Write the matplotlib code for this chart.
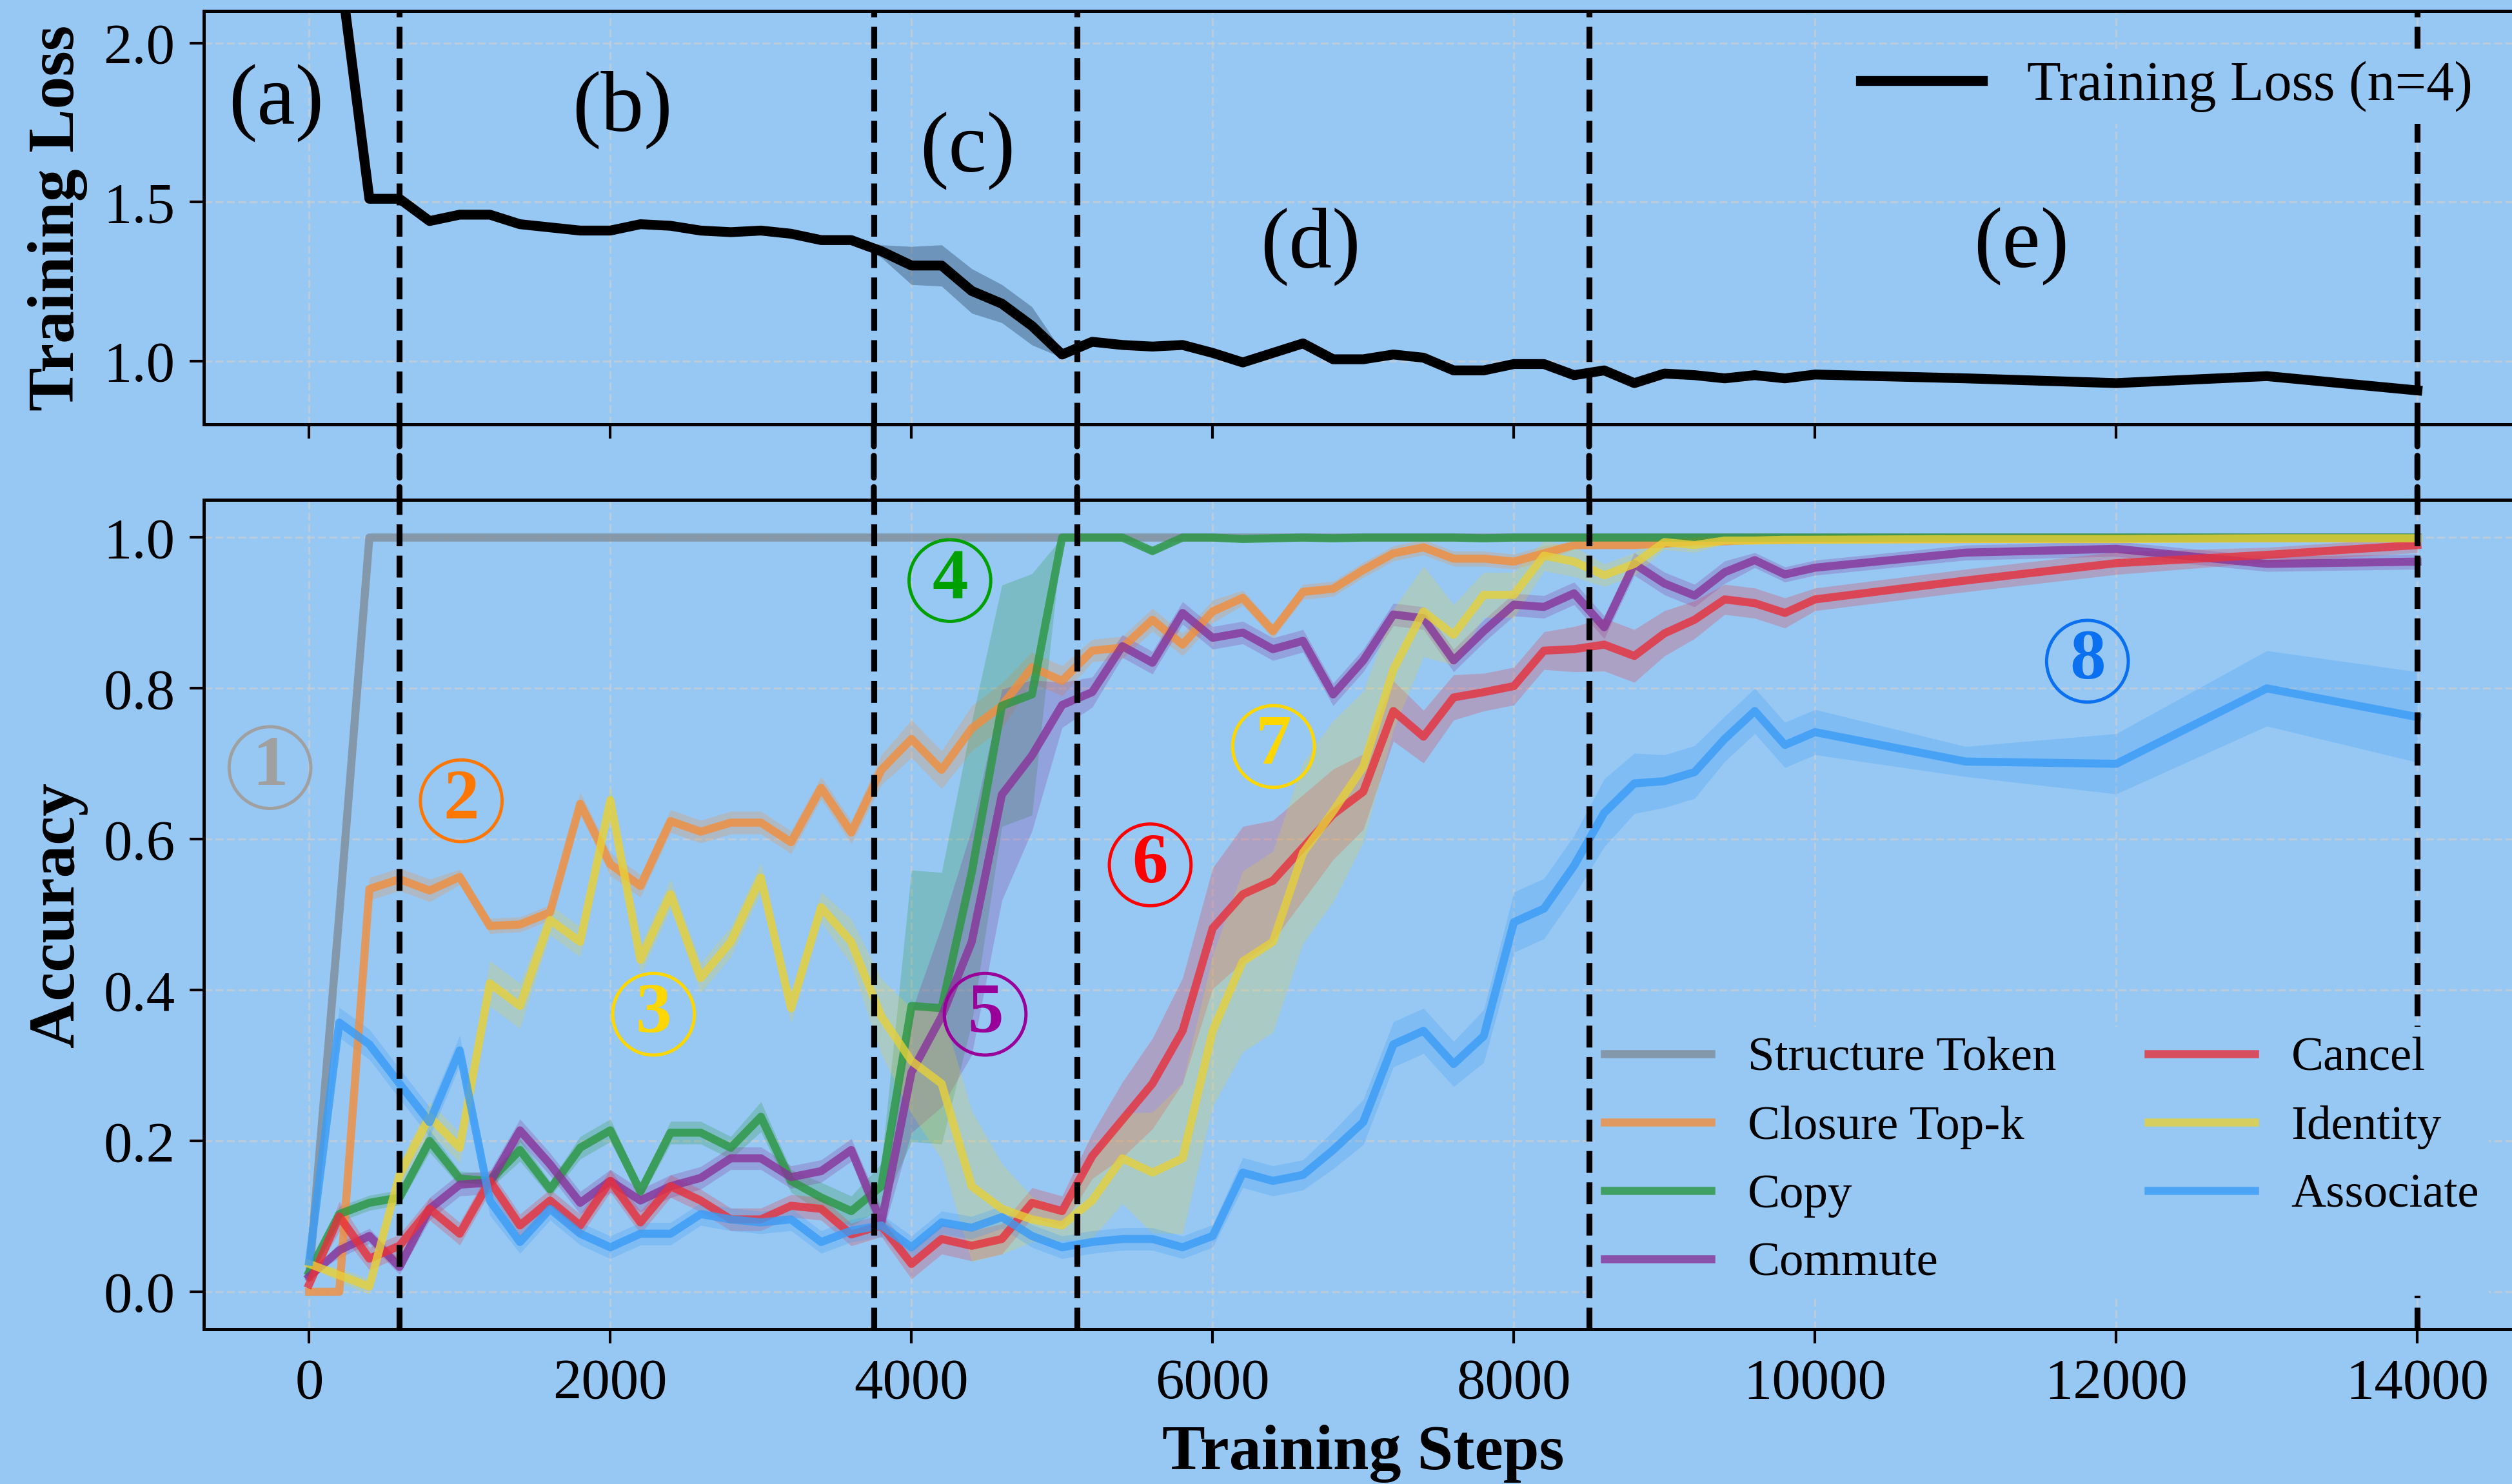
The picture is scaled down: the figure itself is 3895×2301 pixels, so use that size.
import matplotlib.pyplot as plt
from matplotlib.patches import ConnectionPatch
import numpy as np

plt.rcParams['font.family'] = ['Liberation Serif', 'DejaVu Serif']

BG = '#97c8f4'

# training steps (every 200 up to 10k, then every 1k)
steps = list(range(0, 10001, 200)) + [11000, 12000, 13000, 14000]

loss = [4.0, 2.25, 1.51, 1.51, 1.44, 1.46, 1.46, 1.43, 1.42, 1.41, 1.41, 1.43, 1.425, 1.41,
        1.405, 1.41, 1.40, 1.38, 1.38, 1.345, 1.30, 1.30, 1.22, 1.18, 1.11, 1.02, 1.06, 1.05,
        1.045, 1.05, 1.025, 0.995, 1.025, 1.055, 1.005, 1.005, 1.02, 1.01, 0.97, 0.97, 0.99,
        0.99, 0.955, 0.97, 0.93, 0.96, 0.955, 0.945, 0.955, 0.945, 0.957, 0.945, 0.93, 0.952, 0.907]
loss_std = [0, 0, 0.005, 0.005, 0.005, 0.005, 0.005, 0.005, 0.005, 0.005, 0.005, 0.005, 0.005, 0.005,
            0.005, 0.005, 0.005, 0.005, 0.005, 0.02, 0.06, 0.065, 0.07, 0.06, 0.06, 0.01, 0.005, 0.005,
            0.005, 0.005, 0.005, 0.005, 0.005, 0.005, 0.005, 0.005, 0.005, 0.005, 0.005, 0.005, 0.005,
            0.005, 0.005, 0.005, 0.005, 0.005, 0.005, 0.005, 0.005, 0.005, 0.005, 0.005, 0.005, 0.005, 0.005]

structure = [0.02, 0.5] + [1.0] * 53
structure_std = [0.0] * 55

closure = [0.0, 0.0, 0.534, 0.547, 0.532, 0.55, 0.485, 0.487, 0.503, 0.647, 0.567, 0.538, 0.624, 0.61,
           0.622, 0.622, 0.596, 0.668, 0.609, 0.692, 0.733, 0.692, 0.747, 0.777, 0.828, 0.81, 0.85, 0.854,
           0.891, 0.858, 0.902, 0.92, 0.876, 0.928, 0.932, 0.957, 0.979, 0.987, 0.972, 0.972, 0.968,
           0.979, 0.99, 0.99, 0.99, 0.992, 0.995, 0.995, 0.997, 0.997, 0.998, 0.998, 0.999, 0.999, 0.999]
closure_std = [0.0, 0.0, 0.015, 0.015, 0.015, 0.01, 0.01, 0.01, 0.01, 0.015, 0.015, 0.015, 0.015, 0.015,
               0.015, 0.015, 0.015, 0.015, 0.015, 0.02, 0.025, 0.025, 0.03, 0.03, 0.02, 0.02, 0.015, 0.015,
               0.015, 0.015, 0.015, 0.01, 0.01, 0.01, 0.01, 0.01, 0.01, 0.01, 0.01, 0.01, 0.01,
               0.01, 0.005, 0.005, 0.005, 0.005, 0.005, 0.005, 0.005, 0.005, 0.005, 0.005, 0.005, 0.005, 0.005]

copy = [0.026, 0.103, 0.118, 0.125, 0.2, 0.15, 0.147, 0.188, 0.136, 0.191, 0.214, 0.133, 0.211, 0.211,
        0.191, 0.232, 0.147, 0.125, 0.107, 0.14, 0.379, 0.376, 0.556, 0.777, 0.792, 1.0, 1.0, 1.0,
        0.982, 1.0, 1.0, 0.998, 0.999, 1.0, 0.999, 1.0, 1.0, 1.0, 1.0, 0.999, 1.0,
        1.0, 1.0, 1.0, 1.0, 1.0, 1.0, 1.0, 1.0, 1.0, 1.0, 1.0, 1.0, 1.0, 1.0]
copy_std = [0.0, 0.01, 0.01, 0.01, 0.015, 0.01, 0.01, 0.015, 0.01, 0.015, 0.015, 0.01, 0.015, 0.015,
            0.015, 0.02, 0.015, 0.02, 0.02, 0.03, 0.18, 0.18, 0.2, 0.16, 0.16, 0.0, 0.0, 0.0,
            0.005, 0.0, 0.0, 0.0, 0.0, 0.0, 0.0, 0.0, 0.0, 0.0, 0.0, 0.0, 0.0,
            0.0, 0.0, 0.0, 0.0, 0.0, 0.0, 0.0, 0.0, 0.0, 0.0, 0.0, 0.0, 0.0, 0.0]

commute = [0.02, 0.055, 0.074, 0.033, 0.11, 0.142, 0.145, 0.214, 0.169, 0.118, 0.147, 0.121, 0.14, 0.151,
           0.177, 0.177, 0.152, 0.16, 0.188, 0.092, 0.291, 0.365, 0.464, 0.659, 0.711, 0.778, 0.795, 0.856,
           0.834, 0.9, 0.867, 0.874, 0.852, 0.863, 0.792, 0.837, 0.898, 0.893, 0.837, 0.876, 0.911,
           0.908, 0.926, 0.881, 0.965, 0.939, 0.923, 0.954, 0.97, 0.951, 0.96, 0.98, 0.985, 0.965, 0.968]
commute_std = [0.0, 0.01, 0.01, 0.01, 0.015, 0.015, 0.015, 0.015, 0.015, 0.015, 0.015, 0.015, 0.015, 0.015,
               0.015, 0.015, 0.015, 0.015, 0.015, 0.02, 0.08, 0.12, 0.15, 0.14, 0.1, 0.03, 0.02, 0.015,
               0.015, 0.015, 0.015, 0.015, 0.015, 0.015, 0.015, 0.015, 0.015, 0.015, 0.015, 0.015, 0.015,
               0.015, 0.015, 0.015, 0.015, 0.015, 0.015, 0.015, 0.01, 0.01, 0.01, 0.01, 0.01, 0.01, 0.01]

cancel = [0.01, 0.1, 0.044, 0.061, 0.11, 0.077, 0.147, 0.088, 0.121, 0.088, 0.147, 0.092, 0.14, 0.121,
          0.096, 0.096, 0.114, 0.11, 0.076, 0.088, 0.037, 0.07, 0.061, 0.07, 0.118, 0.107, 0.18, 0.228,
          0.276, 0.346, 0.482, 0.527, 0.545, 0.589, 0.633, 0.663, 0.77, 0.736, 0.788, 0.795, 0.803,
          0.85, 0.852, 0.858, 0.843, 0.873, 0.891, 0.918, 0.913, 0.9, 0.918, 0.943, 0.966, 0.977, 0.99]
cancel_std = [0.0, 0.02, 0.015, 0.015, 0.015, 0.015, 0.015, 0.015, 0.015, 0.015, 0.015, 0.015, 0.015, 0.015,
              0.015, 0.015, 0.015, 0.015, 0.015, 0.015, 0.02, 0.02, 0.02, 0.02, 0.02, 0.02, 0.03, 0.05,
              0.06, 0.07, 0.08, 0.09, 0.08, 0.07, 0.06, 0.05, 0.04, 0.035, 0.03, 0.025, 0.025,
              0.025, 0.03, 0.035, 0.035, 0.03, 0.025, 0.02, 0.02, 0.02, 0.015, 0.015, 0.015, 0.01, 0.01]

identity = [0.037, 0.022, 0.007, 0.155, 0.232, 0.191, 0.409, 0.379, 0.493, 0.464, 0.652, 0.44, 0.527, 0.416,
            0.464, 0.549, 0.376, 0.51, 0.464, 0.365, 0.306, 0.276, 0.14, 0.11, 0.096, 0.088, 0.121, 0.177,
            0.158, 0.177, 0.346, 0.438, 0.464, 0.582, 0.637, 0.696, 0.825, 0.902, 0.871, 0.924, 0.924,
            0.976, 0.968, 0.95, 0.965, 0.994, 0.99, 0.996, 0.996, 0.997, 0.997, 0.998, 0.998, 0.999, 0.999]
identity_std = [0.0, 0.01, 0.01, 0.015, 0.02, 0.02, 0.03, 0.03, 0.02, 0.02, 0.02, 0.02, 0.02, 0.02,
                0.02, 0.02, 0.02, 0.02, 0.03, 0.05, 0.07, 0.1, 0.1, 0.06, 0.03, 0.02, 0.05, 0.06,
                0.08, 0.1, 0.1, 0.12, 0.12, 0.12, 0.12, 0.1, 0.08, 0.06, 0.04, 0.03, 0.03,
                0.02, 0.02, 0.015, 0.015, 0.01, 0.01, 0.005, 0.005, 0.005, 0.005, 0.005, 0.005, 0.005, 0.005]

associate = [0.04, 0.357, 0.328, 0.276, 0.225, 0.32, 0.121, 0.066, 0.11, 0.077, 0.059, 0.077, 0.077, 0.103,
             0.096, 0.092, 0.096, 0.066, 0.081, 0.088, 0.059, 0.092, 0.085, 0.099, 0.074, 0.059, 0.066, 0.07,
             0.07, 0.059, 0.074, 0.158, 0.147, 0.155, 0.188, 0.225, 0.328, 0.346, 0.302, 0.339, 0.49,
             0.508, 0.565, 0.635, 0.674, 0.677, 0.689, 0.733, 0.77, 0.725, 0.742, 0.703, 0.7, 0.8, 0.762]
associate_std = [0.0, 0.02, 0.02, 0.02, 0.02, 0.02, 0.02, 0.015, 0.015, 0.015, 0.015, 0.015, 0.015, 0.015,
                 0.015, 0.015, 0.015, 0.015, 0.015, 0.015, 0.015, 0.015, 0.015, 0.015, 0.015, 0.015, 0.015, 0.015,
                 0.015, 0.015, 0.015, 0.02, 0.02, 0.02, 0.025, 0.03, 0.03, 0.03, 0.03, 0.035, 0.04,
                 0.04, 0.04, 0.045, 0.04, 0.035, 0.035, 0.03, 0.03, 0.03, 0.03, 0.02, 0.04, 0.05, 0.06]

names = ['Structure Token', 'Closure Top-k', 'Copy', 'Commute', 'Cancel', 'Identity', 'Associate']
series = [structure, closure, copy, commute, cancel, identity, associate]
errors = [structure_std, closure_std, copy_std, commute_std, cancel_std, identity_std, associate_std]
colors = ['#7f8c99', '#f28e3c', '#2a9640', '#873399', '#e8303a', '#e6d03a', '#3a9cf6']

phase_bounds = [600, 3750, 5100, 8500, 14000]
phase_names = ['(a)', '(b)', '(c)', '(d)', '(e)']
phase_pos = [(-220, 1.81), (2080, 1.79), (4370, 1.66), (6650, 1.36), (11370, 1.36)]

marks = ['1', '2', '3', '4', '5', '6', '7', '8']
mark_colors = ['#a0a0a0', '#ff7700', '#ffd700', '#00a000', '#990099', '#ff0000', '#ffd700', '#0a70f0']
mark_pos = [(-260, 0.695), (1010, 0.651), (2287, 0.368), (4255, 0.943), (4489, 0.368),
            (5585, 0.566), (6404, 0.723), (11809, 0.836)]

fig = plt.figure(figsize=(3895 / 200, 2301 / 200), dpi=200, facecolor=BG)
ax1 = fig.add_axes([0.0811, 0.714, 0.9232, 0.2784], facecolor=BG)
ax2 = fig.add_axes([0.0811, 0.1041, 0.9232, 0.5591], facecolor=BG)

x = np.array(steps)

# --- top: training loss
l = np.array(loss)
s = np.array(loss_std)
ax1.fill_between(x, l - s, l + s, color='#1f3550', alpha=0.35, lw=0)
ax1.plot(x, l, color='black', lw=5.5, label='Training Loss (n=4)')
ax1.set_ylim(0.8, 2.1)
ax1.set_yticks([1.0, 1.5, 2.0])
ax1.set_ylabel('Training Loss', fontsize=36.5, fontweight='bold')
for name, (px, py) in zip(phase_names, phase_pos):
    ax1.text(px, py, name, fontsize=48, ha='center', va='center')
ax1.legend(loc='upper right', fontsize=31, handlelength=2.2, handletextpad=0.8,
           borderpad=0.2, borderaxespad=0.7,
           facecolor=BG, edgecolor='none', framealpha=1, fancybox=False)

# --- bottom: accuracy
for name, m, e, c in zip(names, series, errors, colors):
    m = np.array(m)
    e = np.array(e)
    ax2.fill_between(x, m - e, m + e, color=c, alpha=0.25, lw=0)
    ax2.plot(x, m, color=c, lw=4.5, alpha=0.8, label=name)
ax2.set_ylim(-0.05, 1.05)
ax2.set_yticks([0.0, 0.2, 0.4, 0.6, 0.8, 1.0])
ax2.set_ylabel('Accuracy', fontsize=36.5, fontweight='bold')
ax2.set_xlabel('Training Steps', fontsize=36, fontweight='bold')
for t, c, (px, py) in zip(marks, mark_colors, mark_pos):
    ax2.text(px, py, t, color=c, fontsize=40, fontweight='bold', ha='center', va='center', zorder=6,
             bbox=dict(boxstyle='circle,pad=0.12', fc='none', ec=c, lw=1.8))
ax2.legend(loc='lower right', ncol=2, fontsize=27, handlelength=2.2, handletextpad=0.76,
           labelspacing=0.5, columnspacing=1.9, borderpad=0.2, borderaxespad=0.7,
           facecolor=BG, edgecolor='none', framealpha=1, fancybox=False)

for ax in (ax1, ax2):
    ax.set_xlim(-700, 14700)
    ax.set_xticks(range(0, 14001, 2000))
    ax.grid(True, color='#d0d0d0', ls='--', lw=1.2, alpha=0.6)
    ax.set_axisbelow(True)
    ax.tick_params(labelsize=32, length=8, width=1.5, pad=8)
    for sp in ax.spines.values():
        sp.set_linewidth(1.8)
    ax.yaxis.set_label_coords(-0.05, 0.5)
    for b in phase_bounds:
        ax.axvline(b, color='black', ls='--', lw=3.3, zorder=4)
ax1.tick_params(labelbottom=False)
ax2.xaxis.set_label_coords(0.5, -0.115)

# phase lines bridging the gap between the panels
for b in phase_bounds:
    con = ConnectionPatch(xyA=(b, 0.8), coordsA=ax1.transData, xyB=(b, 1.05), coordsB=ax2.transData,
                          color='black', ls='--', lw=3.3)
    fig.add_artist(con)

fig.savefig('out.png', dpi=200, facecolor=BG)
